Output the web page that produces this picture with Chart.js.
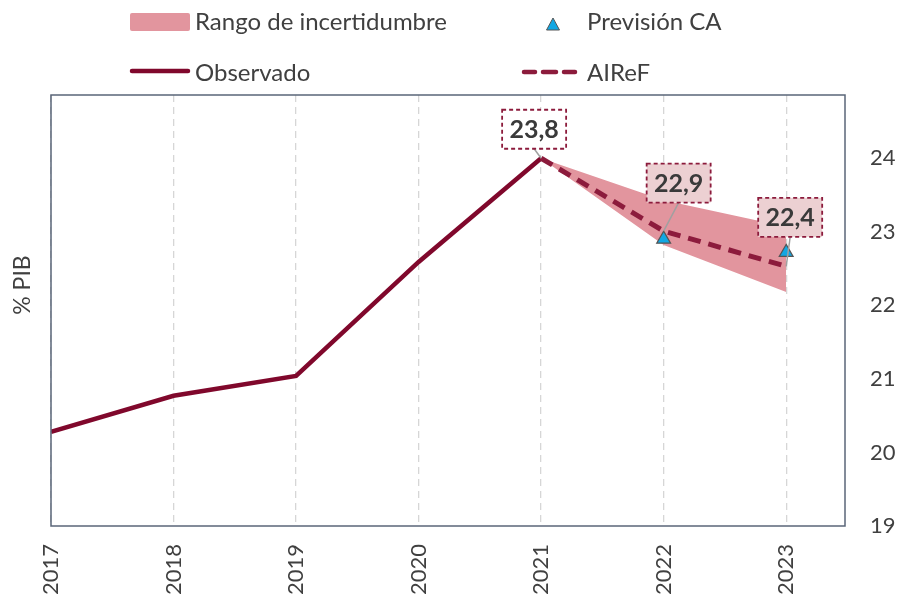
<!DOCTYPE html>
<html><head><meta charset="utf-8">
<script src="https://cdn.jsdelivr.net/npm/chart.js@4/dist/chart.umd.min.js"></script>
<style>html,body{margin:0;padding:0;background:#fff;}#wrap{width:898px;height:596px;position:relative;}</style>
</head><body><div id="wrap"><canvas id="c" width="898" height="596"></canvas></div>
<script>
const years = [2017, 2018, 2019, 2020, 2021, 2022, 2023];
const observado = [20.28, 20.77, 21.04, 22.59, 24.0, null, null];
const airef = [null, null, null, null, 24.0, 23.01, 22.53];
const rangoSup = [null, null, null, null, 24.0, 23.43, 23.07];
const rangoInf = [null, null, null, null, 24.0, 22.82, 22.18];
const prevision = [null, null, null, null, null, 22.90, 22.72];
const etiquetas = [null, null, null, null, '23,8', '22,9', '22,4'];
const yTicks = [19, 20, 21, 22, 23, 24];

const FONT = 'Lato, "Open Sans", sans-serif';
const TXT = '#404040';
const MAROON = '#80082c';
const MAROON2 = '#8c1b3c';
const BAND = '#e2959e';
const FRAME = '#5a6578';

const pts = arr => years.map((y, i) => ({x: y, y: arr[i]})).filter(p => p.y !== null);

// label box offsets (pixels, relative to the AIReF point) and fills
const labelStyle = {2021: {dx: -7, dy: -29, fill: '#ffffff'}, 2022: {dx: 15, dy: -48, fill: '#ecd0d2'}, 2023: {dx: 4, dy: -49, fill: '#ecd0d2'}};

const decor = {
  id: 'decor',
  afterDatasetsDraw(chart) {
    const {ctx, chartArea: a, scales} = chart;
    ctx.save();
    ctx.strokeStyle = FRAME; ctx.lineWidth = 1.5;
    ctx.strokeRect(a.left, a.top, a.right - a.left, a.bottom - a.top);
    ctx.restore();
    years.forEach((yr, i) => {
      if (!etiquetas[i]) return;
      const st = labelStyle[yr];
      const px = scales.x.getPixelForValue(yr);
      const py = scales.y.getPixelForValue(airef[i]);
      const cx = px + st.dx, cy = py + st.dy;
      const w = 64, h = 39;
      ctx.save();
      ctx.strokeStyle = '#a0a0a0'; ctx.lineWidth = 1.5;
      ctx.beginPath(); ctx.moveTo(cx, cy + h / 2); ctx.lineTo(px, py); ctx.stroke();
      ctx.fillStyle = st.fill;
      ctx.fillRect(cx - w / 2, cy - h / 2, w, h);
      ctx.strokeStyle = MAROON2; ctx.lineWidth = 1.8; ctx.setLineDash([4, 3]);
      ctx.strokeRect(cx - w / 2, cy - h / 2, w, h);
      ctx.setLineDash([]);
      ctx.fillStyle = '#3a3a3a';
      ctx.font = 'bold 25px ' + FONT;
      ctx.textAlign = 'center'; ctx.textBaseline = 'middle';
      ctx.fillText(etiquetas[i], cx, cy + 1);
      ctx.restore();
    });
  },
  afterDraw(chart) {
    const {ctx} = chart;
    ctx.save();
    ctx.font = '24px ' + FONT;
    ctx.fillStyle = TXT; ctx.textBaseline = 'middle'; ctx.textAlign = 'left';
    ctx.fillStyle = BAND;
    ctx.beginPath(); ctx.roundRect(130, 13, 60, 18, 2); ctx.fill();
    ctx.fillStyle = TXT;
    ctx.fillText('Rango de incertidumbre', 195, 22);
    ctx.fillStyle = '#12a7e3'; ctx.strokeStyle = '#555'; ctx.lineWidth = 1;
    ctx.beginPath(); ctx.moveTo(553, 18); ctx.lineTo(559.5, 30); ctx.lineTo(546.5, 30); ctx.closePath(); ctx.fill(); ctx.stroke();
    ctx.fillStyle = TXT;
    ctx.fillText('Previsión CA', 587, 22);
    ctx.strokeStyle = MAROON; ctx.lineWidth = 4.5; ctx.lineCap = 'round';
    ctx.beginPath(); ctx.moveTo(132, 71); ctx.lineTo(188, 71); ctx.stroke();
    ctx.fillText('Observado', 195, 73);
    ctx.strokeStyle = MAROON2;
    [[524, 535], [543, 556], [564, 575]].forEach(([a, b]) => { ctx.beginPath(); ctx.moveTo(a, 72); ctx.lineTo(b, 72); ctx.stroke(); });
    ctx.fillText('AIReF', 587, 73);
    ctx.font = '23px ' + FONT;
    ctx.translate(23, 285); ctx.rotate(-Math.PI / 2);
    ctx.textAlign = 'center';
    ctx.fillText('% PIB', 0, 0);
    ctx.restore();
  }
};

new Chart(document.getElementById('c'), {
  type: 'line',
  data: {
    datasets: [
      {label: 'Previsión CA', data: pts(prevision), showLine: false, pointStyle: 'triangle', pointRadius: 8, pointBackgroundColor: '#12a7e3', pointBorderColor: '#555', pointBorderWidth: 1.2, order: 1},
      {label: 'AIReF', data: pts(airef), borderColor: MAROON2, borderWidth: 5, borderDash: [13, 8], pointRadius: 0, fill: false, order: 2},
      {label: 'Observado', data: pts(observado), borderColor: MAROON, borderWidth: 4.5, pointRadius: 0, fill: false, order: 3},
      {label: 'Rango sup', data: pts(rangoSup), borderWidth: 0, borderColor: 'rgba(0,0,0,0)', backgroundColor: BAND, pointRadius: 0, fill: '+1', order: 5},
      {label: 'Rango inf', data: pts(rangoInf), borderWidth: 0, borderColor: 'rgba(0,0,0,0)', pointRadius: 0, fill: false, order: 6}
    ]
  },
  options: {
    responsive: false, animation: false, devicePixelRatio: 1,
    layout: {padding: {top: 95, left: 0, right: 0, bottom: 0}},
    plugins: {legend: {display: false}, tooltip: {enabled: false}},
    scales: {
      x: {
        type: 'linear', position: 'bottom', min: 2017, max: 2023.48,
        afterBuildTicks: s => { s.ticks = years.map(v => ({value: v})); },
        afterFit: s => { s.height = 70; },
        ticks: {autoSkip: false, minRotation: 90, maxRotation: 90, padding: 18, color: TXT, font: {family: FONT, size: 22}, callback: v => String(v)},
        grid: {color: '#d6d6d6', lineWidth: 1.3, drawTicks: false},
        border: {display: false, dash: [7, 5]}
      },
      y: {
        position: 'right', min: 19, max: 24.86,
        afterBuildTicks: s => { s.ticks = yTicks.map(v => ({value: v})); },
        afterFit: s => { s.width = 53; },
        ticks: {padding: 25, color: TXT, font: {family: FONT, size: 22}},
        grid: {display: false, drawTicks: false},
        border: {display: false}
      },
      yl: {
        position: 'left', min: 19, max: 24.86,
        afterFit: s => { s.width = 51; },
        ticks: {display: false},
        grid: {display: false, drawTicks: false},
        border: {display: false}
      }
    }
  },
  plugins: [decor]
});
</script></body></html>
